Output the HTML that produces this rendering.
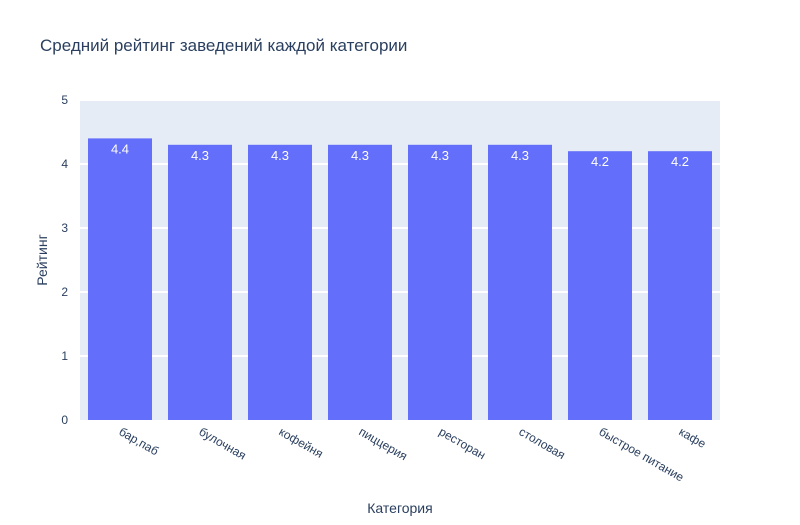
<!DOCTYPE html>
<html><head><meta charset="utf-8"><style>body{margin:0;background:#fff}svg{display:block;font-family:"Liberation Sans","DejaVu Sans",sans-serif}</style></head>
<body>
<svg id="chart" width="800" height="525">
<rect x="0" y="0" width="800" height="525" fill="#fff"/>
<rect x="80" y="100" width="640" height="320" fill="#e5ecf6"/>
<text x="40" y="51" font-size="17" fill="#2a3f5f">Средний рейтинг заведений каждой категории</text>
<g id="grid"></g><g id="bars"></g><g id="labels"></g>
<text transform="translate(47,260) rotate(-90)" text-anchor="middle" font-size="14" fill="#2a3f5f">Рейтинг</text>
<text x="400" y="513" text-anchor="middle" font-size="14" fill="#2a3f5f">Категория</text>
</svg>
<script>
const categories = ["бар,паб","булочная","кофейня","пиццерия","ресторан","столовая","быстрое питание","кафе"];
const ratings = [4.4,4.3,4.3,4.3,4.3,4.3,4.2,4.2];
const yTicks = [0,1,2,3,4,5];
const NS="http://www.w3.org/2000/svg";
const x0=80,w=640,y0=420,h=320,yMax=5;
const yScale=v=>y0-v/yMax*h;
const band=w/categories.length;
const xCenter=i=>x0+band*(i+0.5);
function mk(tag,attrs,parent,text){const e=document.createElementNS(NS,tag);for(const k in attrs)e.setAttribute(k,attrs[k]);if(text!==undefined)e.textContent=text;parent.appendChild(e);return e;}
const grid=document.getElementById('grid'),bars=document.getElementById('bars'),labels=document.getElementById('labels');
yTicks.forEach(t=>{
  if(t>0){const l=mk('line',{x1:x0,x2:x0+w,y1:yScale(t),y2:yScale(t),stroke:'#fff','stroke-width':2},grid);
  
  }
  const tx=mk('text',{x:x0-12,y:yScale(t)+4,'text-anchor':'end','font-size':12,fill:'#2a3f5f'},labels,String(t));
  
  
});
categories.forEach((c,i)=>{
  const bw=band*0.8,v=ratings[i];
  const r=mk('rect',{x:xCenter(i)-bw/2,y:yScale(v),width:bw,height:y0-yScale(v),fill:'#636efa'},bars);
  
  
  const vt=mk('text',{x:xCenter(i),y:yScale(v)+15,'text-anchor':'middle','font-size':13,fill:'#fff'},labels,v.toFixed(1));
  
  
  const cx=xCenter(i)-2,cy=y0+14;
  const xt=mk('text',{x:cx,y:cy,'font-size':12,fill:'#2a3f5f',transform:`rotate(30 ${cx} ${cy})`},labels,c);
  
  
});
</script>
</body></html>
